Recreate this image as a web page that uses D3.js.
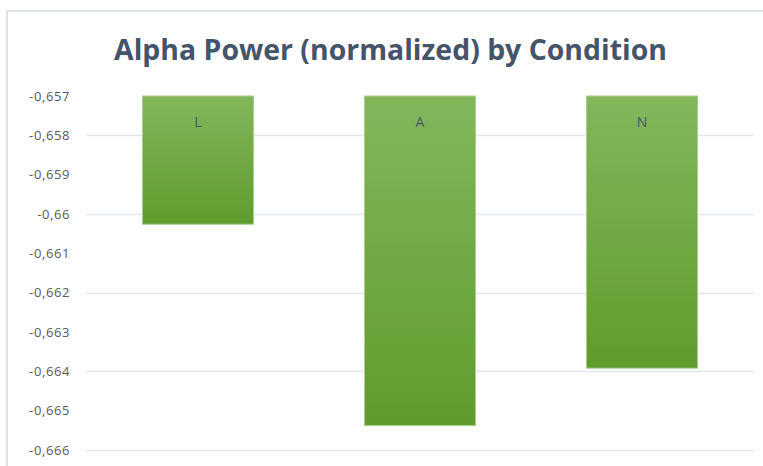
<!DOCTYPE html>
<html>
<head>
<meta charset="utf-8">
<script src="https://cdn.jsdelivr.net/npm/d3@7"></script>
<style>
  body { margin: 0; background: #fff; }
  svg { display: block; }
</style>
</head>
<body>
<svg id="chart" width="763" height="466"></svg>
<script>
// data
var conditions = ["L", "A", "N"];
var alphaPower = [-0.66026, -0.66538, -0.66392];
var tickValues = [-0.657, -0.658, -0.659, -0.660, -0.661, -0.662, -0.663, -0.664, -0.665, -0.666];
var gridValues = [-0.658, -0.660, -0.662, -0.664, -0.666];
var chartTitle = "Alpha Power (normalized) by Condition";

var svg = d3.select("#chart");

var style = {
    left: 87,
    right: 753,
    top: 96,
    bottom: 450,
    titleColor: "#44546A",
    tickColor: "#595959",
    gridColor: "#e1e5e9"
};

// chart frame (cropped screenshot: only top and left edges show)
svg.append("line")
    .attr("x1", 7).attr("x2", 763)
    .attr("y1", 11).attr("y2", 11)
    .attr("stroke", "#dde2e6").attr("stroke-width", 2);
svg.append("line")
    .attr("x1", 7).attr("x2", 7)
    .attr("y1", 11).attr("y2", 466)
    .attr("stroke", "#dde2e6").attr("stroke-width", 2);

var x = d3.scaleBand()
    .domain(conditions)
    .range([style.left, style.right])
    .paddingInner(0.5)
    .paddingOuter(0.25);

var y = d3.scaleLinear()
    .domain([-0.657, -0.666])
    .range([style.top, style.bottom]);

// gradient for bars
var grad = svg.append("defs").append("linearGradient")
    .attr("id", "barFill")
    .attr("x1", 0).attr("x2", 0).attr("y1", 0).attr("y2", 1);
grad.append("stop").attr("offset", "0%").attr("stop-color", "#82b75c");
grad.append("stop").attr("offset", "100%").attr("stop-color", "#5f9c2c");

// gridlines
svg.append("g")
    .selectAll("line")
    .data(gridValues)
    .join("line")
    .attr("x1", style.left).attr("x2", style.right)
    .attr("y1", function(d) { return Math.round(y(d)) + 0.5; })
    .attr("y2", function(d) { return Math.round(y(d)) + 0.5; })
    .attr("stroke", style.gridColor)
    .attr("stroke-width", 1.5);

// y axis labels
var fmt = function(d) { return d3.format(",.3~f")(d).replace(".", ",").replace("−", "-"); };
var yAxis = d3.axisLeft(y)
    .tickValues(tickValues)
    .tickSize(0)
    .tickPadding(0)
    .tickFormat(fmt);

var axisG = svg.append("g")
    .attr("transform", "translate(70,0)")
    .call(yAxis);
axisG.select(".domain").remove();
axisG.selectAll("text")
    .attr("fill", style.tickColor)
    .attr("font-family", "Open Sans, sans-serif")
    .attr("font-size", 13)
    .attr("letter-spacing", 0.6);

// bars hang down from the top of the axis
svg.append("g")
    .selectAll("rect")
    .data(alphaPower)
    .join("rect")
    .attr("x", function(d, i) { return x(conditions[i]); })
    .attr("y", y(-0.657))
    .attr("width", x.bandwidth())
    .attr("height", function(d) { return y(d) - y(-0.657); })
    .attr("fill", "url(#barFill)")
    .attr("stroke", "#a9cf8c")
    .attr("stroke-width", 1);

// category labels inside bars
svg.append("g")
    .selectAll("text")
    .data(conditions)
    .join("text")
    .attr("x", function(d) { return x(d) + x.bandwidth() / 2; })
    .attr("y", 127)
    .attr("text-anchor", "middle")
    .attr("fill", "#46566a")
    .attr("font-family", "Open Sans, sans-serif")
    .attr("font-size", 14)
    .text(function(d) { return d; });

// title, sized to the reference width
var title = svg.append("text")
    .attr("x", (114 + 667) / 2)
    .attr("y", 60)
    .attr("text-anchor", "middle")
    .attr("fill", style.titleColor)
    .attr("font-family", "Open Sans, sans-serif")
    .attr("font-weight", "bold")
    .attr("font-size", 30)
    .text(chartTitle);
var w = title.node().getComputedTextLength();
title.attr("font-size", 30 * 553 / w);
</script>
</body>
</html>
